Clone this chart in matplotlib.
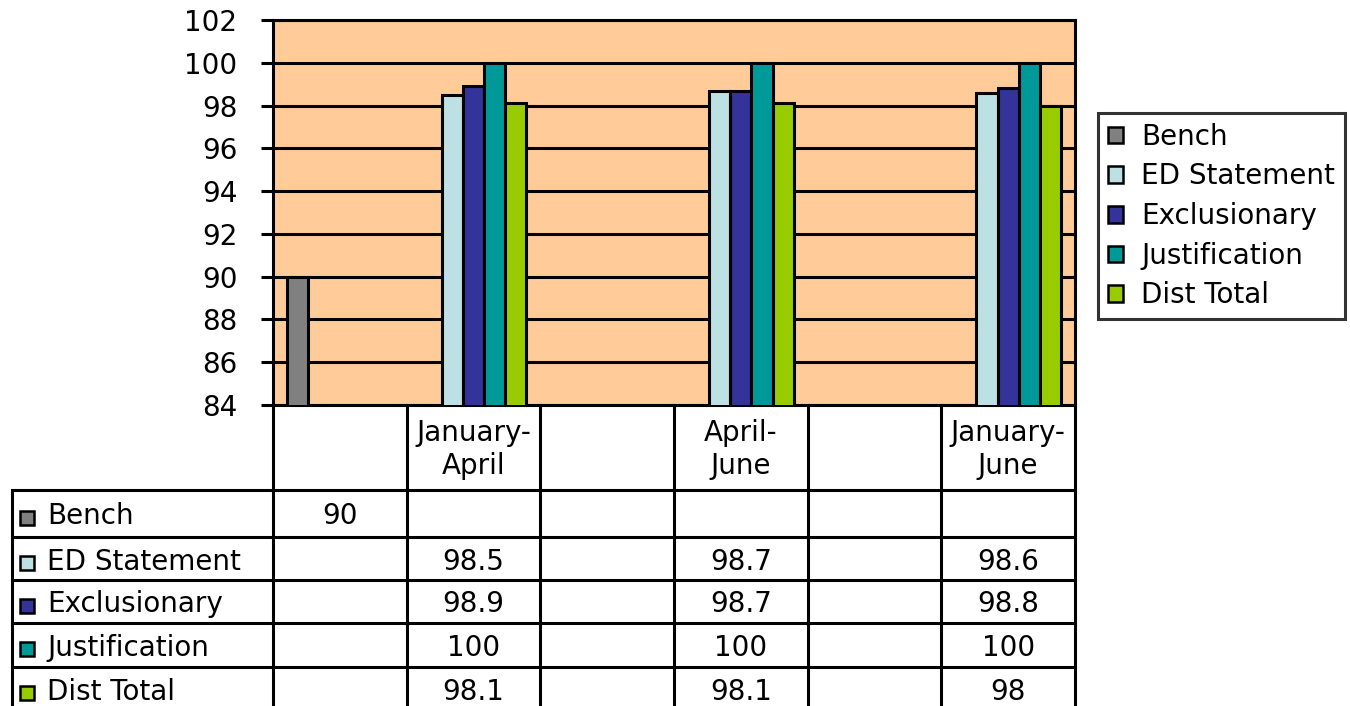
import numpy as np
import matplotlib.pyplot as plt
from matplotlib.patches import Patch

# chart data
categories = ["", "January-\nApril", "", "April-\nJune", "", "January-\nJune"]
series_names = ["Bench", "ED Statement", "Exclusionary", "Justification", "Dist Total"]
bench = [90, np.nan, np.nan, np.nan, np.nan, np.nan]
ed_statement = [np.nan, 98.5, np.nan, 98.7, np.nan, 98.6]
exclusionary = [np.nan, 98.9, np.nan, 98.7, np.nan, 98.8]
justification = [np.nan, 100, np.nan, 100, np.nan, 100]
dist_total = [np.nan, 98.1, np.nan, 98.1, np.nan, 98]
colors = ["#808080", "#BCE0E4", "#333399", "#009999", "#99CC00"]

all_series = [bench, ed_statement, exclusionary, justification, dist_total]

W, H = 1350, 706
fig = plt.figure(figsize=(13.5, 7.06), dpi=100)
lw = 2.2

# main plot area
ax = fig.add_axes([273 / W, 1 - 405 / H, (1075 - 273) / W, (405 - 20) / H])
ax.set_facecolor("#FFCC99")
x = np.arange(len(categories))
bw = 0.158
for i, (vals, col) in enumerate(zip(all_series, colors)):
    v = np.array(vals, dtype=float)
    m = ~np.isnan(v)
    ax.bar(x[m] + (i - 2) * bw, v[m], bw, color=col, edgecolor="black",
           linewidth=lw, zorder=3)
ax.set_xlim(-0.5, len(categories) - 0.5)
ax.set_ylim(84, 102)
ax.set_yticks(range(84, 103, 2))
ax.set_xticks([])
ax.set_axisbelow(True)
ax.yaxis.grid(True, color="black", linewidth=lw)
ax.tick_params(axis="y", length=8.6, width=lw, pad=17, labelsize=20)
for s in ax.spines.values():
    s.set_linewidth(lw)

# data table below the plot
col_w = (1075 - 273) / len(categories)
x0 = -0.5 - (273 - 12) / col_w
tax = fig.add_axes([12 / W, 1 - 710 / H, (1075 - 12) / W, (710 - 405) / H])
tax.set_xlim(x0, len(categories) - 0.5)
tax.set_ylim(305, 0)
tax.axis("off")
row_edges = [0, 85, 132, 175, 218, 262, 305]
for k in range(len(categories) + 1):
    tax.plot([k - 0.5, k - 0.5], [0, 305], color="black", lw=lw, clip_on=False)
tax.plot([x0, x0], [row_edges[1], 305], color="black", lw=lw, clip_on=False)
for y in row_edges[1:]:
    tax.plot([x0, len(categories) - 0.5], [y, y], color="black", lw=lw, clip_on=False)

for k, lab in enumerate(categories):
    tax.text(k, row_edges[1] / 2 + 2, lab, ha="center", va="center", fontsize=20)

for r, (name, vals, col) in enumerate(zip(series_names, all_series, colors)):
    yc = (row_edges[r + 1] + row_edges[r + 2]) / 2 + 3
    tax.plot([x0 + 15 / col_w], [yc + 1], marker="s", markersize=10.5,
             markerfacecolor=col, markeredgecolor="black", markeredgewidth=1.8,
             clip_on=False)
    tax.text(x0 + 35 / col_w, yc, name, ha="left", va="center", fontsize=20)
    for k, v in enumerate(vals):
        if not np.isnan(v):
            tax.text(k, yc, f"{v:g}", ha="center", va="center", fontsize=20)

# legend
handles = [Patch(facecolor=c, edgecolor="black", linewidth=1.8) for c in colors]
leg = fig.legend(handles, series_names, loc="upper left",
                 bbox_to_anchor=(1098 / W, 1 - 113 / H), frameon=True,
                 fancybox=False, edgecolor="black", fontsize=20,
                 handlelength=0.55, handleheight=0.55, handletextpad=0.65,
                 labelspacing=0.42, borderpad=0.35, borderaxespad=0)
leg.get_frame().set_linewidth(lw)

fig.savefig("out.png", dpi=100)
